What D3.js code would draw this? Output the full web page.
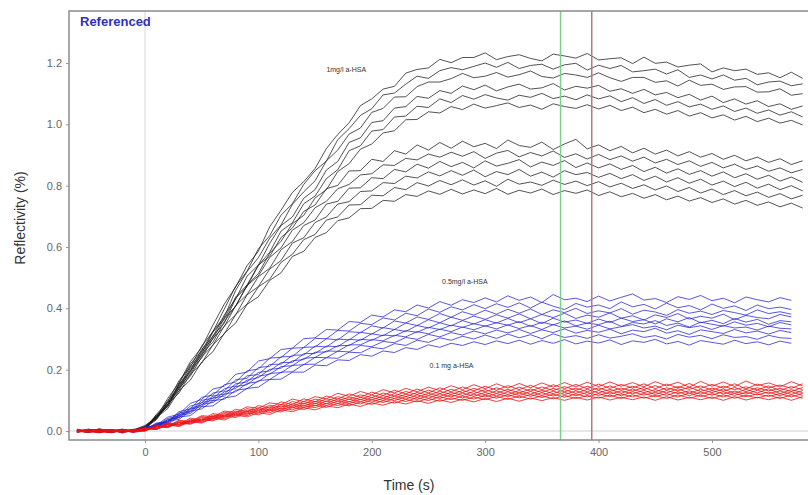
<!DOCTYPE html>
<html>
<head>
<meta charset="utf-8">
<script src="https://cdnjs.cloudflare.com/ajax/libs/d3/7.8.5/d3.min.js"></script>
<style>
	body { margin:0; background:#fff; }
	text { font-family: Arial, "Liberation Sans", sans-serif; }
</style>
</head>
<body>
<svg id="chart"></svg>
<script>
/*************** data (reflectivity in 0.001 %) *****************/
var time = [-60,-50,-40,-30,-20,-10,0,10,20,30,40,50,60,70,80,90,100,110,120,130,140,150,160,170,180,190,
	200,210,220,230,240,250,260,270,280,290,300,310,320,330,340,350,360,370,380,390,
	400,410,420,430,440,450,460,470,480,490,500,510,520,530,540,550,560,570,580];

var xTicks = [0,100,200,300,400,500];
var yTicks = [0,0.2,0.4,0.6,0.8,1.0,1.2];

// 1 mg/l runs
var blackRuns = [
	[4,-3,2,-5,1,3, 15,44,106,157,226,272,346,414,470,539, 586,666,720,778,813,856,921,967,1005,1061, 1083,1115,1124,1167,1179,1184,1212,1201,1218,1218, 1233,1211,1221,1227,1215,1207,1229,1223,1216,1231, 1210,1214,1217,1198,1219,1199,1203,1187,1193,1197, 1171,1184,1175,1180,1163,1168,1152,1170,1150],
	[-2,5,1,-4,3,0, 8,54,95,164,208,277,324,398,472,521, 594,637,704,741,804,849,880,950,986,1029, 1051,1096,1102,1131,1157,1150,1175,1185,1178,1189, 1200,1186,1202,1182,1192,1196,1180,1194,1199,1177, 1193,1182,1192,1171,1175,1180,1164,1178,1153,1161, 1148,1161,1144,1150,1129,1138,1141,1126,1132],
	[1,-4,6,2,-3,4, 18,45,85,155,219,261,326,372,459,520, 565,629,672,739,780,816,881,916,968,988, 1039,1052,1089,1090,1123,1138,1138,1149,1166,1152, 1157,1169,1154,1162,1174,1156,1151,1166,1161,1153, 1168,1152,1140,1153,1153,1137,1142,1125,1144,1127, 1131,1114,1122,1123,1105,1106,1116,1095,1100],
	[-3,2,-1,5,-2,1, 9,51,84,152,197,266,308,379,430,505, 541,612,670,698,759,787,851,879,941,956, 1006,1012,1053,1058,1091,1085,1110,1101,1125,1113, 1128,1109,1122,1131,1115,1119,1133,1112,1124,1118, 1127,1108,1116,1101,1114,1096,1104,1087,1098,1079, 1092,1071,1083,1066,1077,1058,1067,1049,1060],
	[2,-4,3,-1,4,-2, 14,40,93,138,205,246,311,352,433,471, 540,583,652,679,741,766,823,852,914,930, 978,983,1024,1027,1059,1055,1083,1071,1094,1082, 1097,1086,1079,1095,1088,1101,1084,1092,1080,1096, 1083,1093,1074,1087,1068,1081,1062,1074,1057,1066, 1049,1060,1042,1053,1036,1047,1030,1041,1024],
	[-1,3,-4,2,0,5, 6,47,80,145,186,251,290,357,408,475, 513,580,619,676,703,760,787,846,872,919, 936,972,979,1015,1016,1041,1037,1058,1048,1066, 1053,1061,1070,1055,1063,1049,1067,1058,1052,1064, 1050,1062,1045,1056,1038,1049,1033,1045,1027,1038, 1021,1031,1014,1026,1009,1020,1004,1013,998],
	[3,-2,5,-4,1,2, 12,41,99,144,213,252,323,365,437,476, 541,570,631,662,716,737,790,801,848,849, 886,879,914,903,933,916,941,922,945,927, 938,921,949,931,925,942,918,936,951,920, 933,914,928,907,922,903,916,897,911,893, 905,886,899,881,893,876,888,869,881],
	[-3,1,4,-2,3,-1, 5,51,86,151,192,259,301,368,407,474, 506,566,597,655,679,728,749,790,804,835, 839,868,866,889,884,903,893,909,896,911, 889,906,915,894,908,897,913,892,904,887, 902,885,897,880,893,874,886,869,881,863, 876,858,870,853,864,847,858,842,853],
	[0,4,-3,2,-5,3, 14,39,93,132,197,238,303,341,409,445, 503,531,591,618,670,688,740,749,792,793, 826,823,853,845,870,857,879,862,876,858, 881,864,873,885,861,877,866,882,859,874, 858,871,853,866,846,860,841,855,837,849, 831,845,826,839,821,834,815,828,811],
	[2,-1,-4,3,1,-2, 4,47,79,140,179,242,280,343,379,444, 471,528,556,613,630,680,698,740,748,781, 783,810,807,831,825,845,832,849,834,851, 829,846,836,853,831,844,828,849,836,843, 827,840,823,836,817,831,812,826,808,821, 802,815,797,811,792,805,787,800,783],
	[-2,3,0,-3,4,1, 11,36,87,124,185,221,282,317,380,414, 470,495,550,576,624,641,688,698,737,738, 769,767,794,787,810,799,817,803,819,802, 816,798,821,805,812,801,818,804,815,800, 813,796,808,791,803,786,799,781,794,776, 789,771,784,767,779,762,774,757,769],
	[1,-3,2,0,-2,4, 3,44,73,131,166,225,259,319,352,413, 438,491,516,569,586,631,647,686,695,725, 726,752,749,771,765,783,772,788,773,786, 774,791,772,785,776,789,771,784,775,786, 768,780,764,775,759,771,754,766,750,761, 745,757,740,752,736,747,731,743,727]
];

// 0.5 mg/l runs (stop at 570 s)
var blueRuns = [
	[-4,6,2,-3,5,-1, 12,19,45,55,90,103,137,146,185,192, 228,236,266,270,301,304,331,329,357,354, 378,372,395,389,411,401,422,410,428,419, 434,421,441,426,437,419,445,428,433,422, 440,424,436,447,427,432,419,438,429,442, 425,433,418,437,428,421,435,426],
	[2,-5,4,1,-2,3, 4,26,31,63,72,110,117,151,160,196, 202,238,240,270,272,302,301,328,326,351, 347,369,362,384,376,398,387,405,395,412, 399,415,403,418,401,420,407,396,416,404, 411,399,421,405,413,398,417,402,409,395, 414,400,408,393,411,399,404,396],
	[0,3,-4,2,6,-2, 13,15,41,49,81,92,124,131,167,172, 207,211,242,243,273,274,301,297,324,321, 343,336,359,352,372,364,383,371,389,378, 394,381,397,384,398,380,395,386,400,383, 392,385,399,381,394,388,377,396,384,391, 380,393,386,378,395,383,389,381],
	[-3,1,5,-2,0,4, 3,24,29,59,65,100,107,138,147,180, 184,217,218,247,248,277,274,300,297,322, 316,337,331,352,344,363,353,371,361,375, 364,379,368,382,366,380,370,384,367,378, 371,385,368,376,362,379,370,383,365,374, 368,381,363,377,370,366,380,372],
	[4,-2,1,-5,3,0, 10,14,37,45,74,85,114,121,154,160, 191,196,223,224,252,253,277,275,299,296, 317,311,331,325,344,336,353,343,360,349, 363,352,367,353,366,350,368,355,362,351, 365,354,368,357,363,349,366,356,370,353, 361,350,367,355,364,348,360,356],
	[1,-1,-3,4,-2,2, 4,22,28,54,62,93,100,128,139,166, 174,201,205,229,233,257,258,278,279,299, 296,313,310,327,322,338,331,345,338,350, 342,353,345,357,341,355,346,359,343,352, 347,358,341,354,349,360,344,352,339,355, 348,342,356,345,351,340,354,346],
	[-1,4,0,-4,2,-3, 11,13,36,43,71,80,108,114,145,151, 179,185,210,213,237,240,261,260,281,281, 298,294,312,307,324,317,332,324,339,330, 343,333,346,334,344,331,347,336,342,332, 345,333,340,347,336,342,330,345,337,343, 331,344,336,339,329,342,335,333],
	[3,0,-2,1,-4,2, 3,21,25,51,57,87,93,120,128,155, 161,188,190,214,216,240,239,260,258,279, 275,292,288,305,299,315,307,321,313,326, 317,329,320,331,318,330,321,333,319,328, 322,332,317,329,324,335,319,327,315,330, 324,318,331,320,326,316,328,321],
	[-2,2,3,-1,1,-4, 10,12,33,38,65,72,99,104,133,138, 164,168,192,193,217,218,239,237,257,255, 273,268,285,279,296,289,304,296,309,300, 313,302,316,304,314,301,317,305,311,302, 314,303,309,317,305,311,300,315,306,312, 301,314,305,308,299,312,304,302],
	[0,-3,2,3,-1,1, 2,19,22,46,50,79,82,108,114,139, 143,168,169,192,192,215,213,232,230,249, 244,261,256,272,266,281,273,286,279,291, 282,294,285,296,283,295,286,298,284,293, 287,297,282,294,289,299,284,292,280,295, 289,283,296,285,291,281,293,286]
];

// 0.1 mg/l runs
var redRuns = [
	[5,-3,8,-6,2,-4, 2,19,16,35,31,50,47,65,61,79, 74,92,86,104,96,112,105,123,113,129, 118,135,124,139,128,143,132,148,135,151, 138,154,140,155,141,157,143,158,144,159, 145,160,146,158,144,161,147,159,143,162, 146,160,145,163,148,157,144,161,147],
	[-4,6,-1,4,-7,3, 11,8,27,22,42,36,57,50,71,63, 83,75,95,86,105,95,114,104,121,110, 127,116,133,121,137,124,141,128,144,131, 146,133,148,135,149,135,151,138,152,138, 153,139,152,140,154,138,153,141,155,139, 152,140,154,137,153,141,150,139,154],
	[1,-5,3,0,-3,6, 0,18,15,33,29,47,42,61,56,73, 67,84,78,96,88,104,96,112,103,118, 109,124,114,129,119,133,122,136,125,139, 128,141,129,143,130,144,132,145,133,146, 134,147,133,146,135,148,134,145,136,147, 133,146,135,144,134,147,132,145,135],
	[3,-2,-6,5,1,-4, 9,7,25,20,38,33,52,47,65,58, 76,69,87,80,96,89,105,97,111,102, 117,107,122,112,126,116,130,119,132,122, 135,123,136,124,137,126,139,128,140,128, 141,129,140,130,142,128,141,131,143,129, 140,130,142,128,141,131,139,129,142],
	[-2,4,2,-3,6,-1, 1,17,13,30,26,44,39,57,52,68, 62,79,72,89,81,97,89,105,95,110, 101,115,106,120,110,123,113,126,116,129, 118,131,119,132,120,133,122,135,123,136, 124,136,123,137,125,135,124,138,123,136, 125,137,123,136,124,138,122,135,125],
	[6,-1,-4,2,-2,5, 8,6,23,19,35,31,48,44,60,54, 72,65,82,75,90,82,98,90,104,95, 109,100,114,104,118,107,121,111,124,113, 126,114,128,116,129,116,130,119,131,119, 132,120,131,121,133,119,132,122,131,120, 132,121,130,120,133,122,131,119,132],
	[-5,2,6,-1,3,-3, 0,15,12,28,24,40,36,53,48,64, 58,73,67,83,76,90,83,98,89,103, 94,107,99,112,103,115,106,118,108,120, 111,122,112,124,113,125,114,126,115,126, 116,127,115,128,117,126,116,128,115,127, 117,128,116,126,118,127,115,128,116],
	[2,5,-3,-5,4,0, 9,5,21,16,33,28,45,40,56,50, 67,60,75,69,83,76,90,83,96,88, 102,93,106,96,109,99,112,102,114,104, 117,107,118,108,119,109,120,110,121,111, 122,112,121,111,123,112,122,111,124,112, 122,111,123,112,121,113,122,111,123],
	[-1,-4,3,4,-2,2, 1,14,11,26,22,37,33,49,44,59, 53,68,62,77,70,84,77,90,82,95, 87,99,91,103,95,106,97,108,100,111, 102,113,103,114,104,115,105,116,106,116, 107,117,106,118,107,116,106,118,107,117, 106,118,107,116,108,117,106,118,107],
	[4,0,-2,-4,5,-1, 8,5,20,15,30,26,41,36,52,46, 60,54,69,63,76,69,82,76,88,80, 92,84,96,88,99,90,102,93,104,95, 106,96,107,97,108,99,109,100,110,101, 111,101,110,102,111,100,112,101,110,102, 111,100,112,101,110,102,111,100,112]
];

var markerTimes = [366.5, 394];   // green and red cursor lines
var groupLabels = ["1mg/l a-HSA", "0.5mg/l a-HSA", "0.1 mg a-HSA"];
var labelAt = [[160, 1.17], [262, 0.478], [251, 0.205]]; // [time, reflectivity]

/*************** settings *****************/
var width = 808,
	height = 495,
	margin = {top:11, right:-6, bottom:55, left:69};

var innerWidth = width - margin.left - margin.right,
	innerHeight = height - margin.top - margin.bottom;

var svg = d3.select("#chart")
	.attr("width", width)
	.attr("height", height);

var x = d3.scaleLinear().domain([-67, 590]).range([0, innerWidth]);
var y = d3.scaleLinear().domain([-0.0293, 1.3696]).range([innerHeight, 0]);

var g = svg.append("g")
	.attr("transform", "translate(" + margin.left + "," + margin.top + ")");

g.append("clipPath").attr("id", "clip")
	.append("rect").attr("width", innerWidth).attr("height", innerHeight);

/*************** reference lines *****************/
g.append("line")
	.attr("x1", x(0)).attr("x2", x(0))
	.attr("y1", 0).attr("y2", innerHeight)
	.attr("stroke", "#e4e4e4").attr("stroke-width", 1.5);

g.append("line")
	.attr("x1", 0).attr("x2", innerWidth)
	.attr("y1", y(0)).attr("y2", y(0))
	.attr("stroke", "#cfcfcf").attr("stroke-width", 1);

/*************** curves *****************/
var line = d3.line()
	.x(function(d, i) { return x(time[i]); })
	.y(function(d) { return y(d / 1000); });

var plot = g.append("g").attr("clip-path", "url(#clip)");

function drawRuns(runs, color, opacity) {
	plot.append("g")
		.selectAll("path")
		.data(runs)
		.enter().append("path")
			.attr("d", line)
			.attr("fill", "none")
			.attr("stroke", color)
			.attr("stroke-opacity", opacity)
			.attr("stroke-width", 1)
			.attr("stroke-linejoin", "round");
}

drawRuns(blackRuns, "#1a1a1a", 0.75);
drawRuns(blueRuns, "#1f1fd0", 0.75);
drawRuns(redRuns, "#ea1010", 0.8);

// cursor lines
g.selectAll("line.marker")
	.data(markerTimes)
	.enter().append("line")
		.attr("class", "marker")
		.attr("x1", function(d) { return x(d); })
		.attr("x2", function(d) { return x(d); })
		.attr("y1", 0).attr("y2", innerHeight)
		.attr("stroke", function(d, i) { return i == 0 ? "#7ccf8c" : "#b9767c"; })
		.attr("stroke-width", 1.5);

// group labels
g.selectAll("text.grp")
	.data(groupLabels)
	.enter().append("text")
		.attr("class", "grp")
		.attr("x", function(d, i) { return x(labelAt[i][0]); })
		.attr("y", function(d, i) { return y(labelAt[i][1]); })
		.attr("font-size", 7)
		.attr("fill", "#333")
		.text(function(d) { return d; });

/*************** axes *****************/
var xAxis = g.append("g")
	.attr("transform", "translate(0," + innerHeight + ")")
	.call(d3.axisBottom(x).tickValues(xTicks).tickSize(3).tickPadding(5).tickFormat(d3.format("d")));

var yAxis = g.append("g")
	.call(d3.axisLeft(y).tickValues(yTicks).tickSize(3).tickPadding(4).tickFormat(d3.format(".1f")));

[xAxis, yAxis].forEach(function(a) {
	a.select(".domain").remove();
	a.selectAll(".tick line").attr("stroke", "#999");
	a.selectAll(".tick text").attr("fill", "#666").attr("font-size", 11)
		.style("font-family", "Arial, 'Liberation Sans', sans-serif");
});

// panel frame
g.append("rect")
	.attr("width", innerWidth).attr("height", innerHeight)
	.attr("fill", "none")
	.attr("stroke", "#8a8a8a").attr("stroke-width", 1.5);

/*************** titles *****************/
g.append("text")
	.attr("x", 11).attr("y", 15)
	.attr("font-size", 13).attr("font-weight", "bold")
	.attr("fill", "#3030c0")
	.text("Referenced");

svg.append("text")
	.attr("x", 409).attr("y", 490)
	.attr("text-anchor", "middle")
	.attr("font-size", 14).attr("fill", "#333")
	.text("Time (s)");

svg.append("text")
	.attr("transform", "translate(25,218) rotate(-90)")
	.attr("text-anchor", "middle")
	.attr("font-size", 14).attr("fill", "#333")
	.text("Reflectivity (%)");
</script>
</body>
</html>
